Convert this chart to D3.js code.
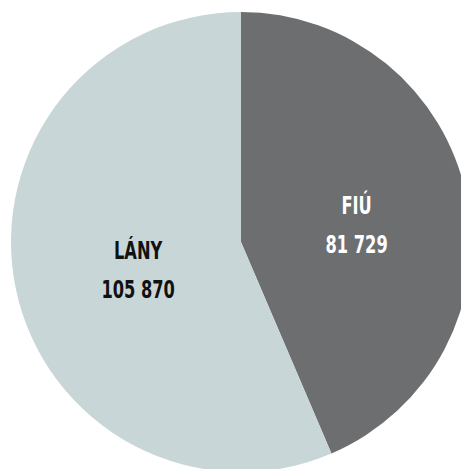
<!DOCTYPE html>
<meta charset="utf-8">
<script src="https://d3js.org/d3.v7.min.js"></script>
<style>
  body { margin: 0; background: #fff; }
  text { font-family: "DejaVu Sans", sans-serif; font-weight: bold; }
</style>
<div id="chart"></div>
<script>
// data
var labels = ["FIÚ", "LÁNY"];
var values = [81729, 105870];
var valueText = ["81 729", "105 870"];
var colors = ["#6d6e70", "#c9d6d8"];
var textColors = ["#ffffff", "#111111"];

var width = 461, height = 469;
var cx = 241, cy = 242, radius = 230;
var labelRadius = [118, 105];

var svg = d3.select("#chart").append("svg")
  .attr("width", width)
  .attr("height", height)
  .append("g")
  .attr("transform", "translate(" + cx + "," + cy + ")");

var pie = d3.pie().sort(null).value(function(d) { return d; });
var arcs = pie(values);

var arc = d3.arc().innerRadius(0).outerRadius(radius);

svg.selectAll("path")
  .data(arcs)
  .enter().append("path")
    .attr("d", arc)
    .style("fill", function(d, i) { return colors[i]; });

// labels: condensed look by squeezing the text horizontally
var lab = svg.selectAll(".lab")
  .data(arcs)
  .enter().append("text")
    .attr("class", "lab")
    .attr("text-anchor", "middle")
    .style("font-size", "25px")
    .style("fill", function(d, i) { return textColors[i]; })
    .attr("transform", function(d, i) {
      var c = d3.arc().innerRadius(labelRadius[i]).outerRadius(labelRadius[i]).centroid(d);
      return "translate(" + c[0] + "," + c[1] + ") scale(0.65,1)";
    });

lab.append("tspan")
  .attr("x", 0)
  .attr("y", -4)
  .text(function(d, i) { return labels[i]; });
lab.append("tspan")
  .attr("x", 0)
  .attr("y", 35)
  .text(function(d, i) { return valueText[i]; });
</script>
